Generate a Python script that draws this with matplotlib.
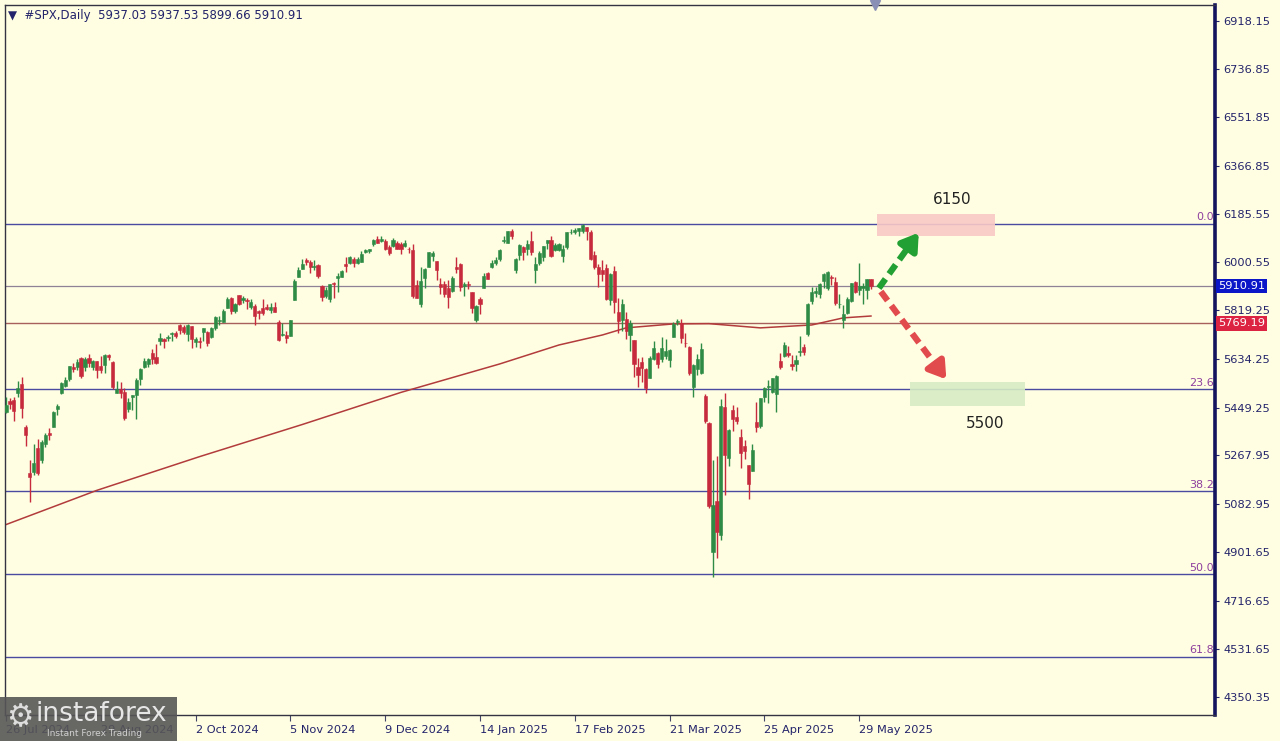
import numpy as np
import matplotlib
matplotlib.use("Agg")
import matplotlib.pyplot as plt
from matplotlib.patches import Rectangle
import matplotlib.transforms as mtransforms

# --- daily OHLC, one row of 10 bars per line (26 Jul 2024 .. 3 Jun 2025) ---
opens = [
    5434, 5476, 5478, 5505, 5537, 5376, 5200, 5206, 5294, 5252,
    5312, 5351, 5376, 5443, 5503, 5531, 5557, 5603, 5603, 5637,
    5603, 5639, 5603, 5625, 5608, 5612, 5648, 5624, 5506, 5520,
    5507, 5443, 5490, 5496, 5557, 5603, 5614, 5655, 5641, 5703,
    5709, 5712, 5728, 5733, 5762, 5756, 5727, 5758, 5698, 5701,
    5737, 5738, 5719, 5751, 5778, 5775, 5829, 5866, 5816, 5876,
    5859, 5858, 5833, 5835, 5817, 5826, 5833, 5818, 5833, 5776,
    5724, 5725, 5722, 5856, 5947, 5976, 6009, 6003, 5985, 5990,
    5912, 5874, 5860, 5924, 5942, 5947, 5993, 6000, 6015, 6000,
    6004, 6040, 6042, 6069, 6090, 6082, 6083, 6058, 6061, 6074,
    6069, 6063, 6053, 6048, 5913, 5842, 5941, 5985, 6025, 6006,
    5920, 5920, 5903, 5892, 5983, 5993, 5910, 5918, 5890, 5783,
    5860, 5905, 5962, 5982, 5997, 6015, 6082, 6076, 6121, 5970,
    6027, 6058, 6050, 6082, 5970, 5998, 6021, 6073, 6084, 6049,
    6049, 6026, 6060, 6115, 6115, 6121, 6118, 6134, 6115, 6027,
    5982, 5971, 5981, 5857, 5969, 5812, 5781, 5786, 5726, 5705,
    5603, 5624, 5594, 5563, 5635, 5655, 5633, 5646, 5630, 5718,
    5775, 5772, 5696, 5679, 5527, 5597, 5580, 5492, 5390, 4900,
    5093, 4966, 5450, 5256, 5441, 5412, 5336, 5305, 5232, 5207,
    5395, 5381, 5490, 5529, 5509, 5500, 5625, 5646, 5655, 5615,
    5614, 5662, 5679, 5730, 5854, 5886, 5879, 5929, 5902, 5944,
    5928, 5842, 5782, 5810, 5855, 5925, 5895, 5903, 5897, 5937.03,
]
highs = [
    5488, 5487, 5489, 5551, 5566, 5383, 5250, 5312, 5330, 5328,
    5351, 5372, 5436, 5463, 5546, 5564, 5608, 5620, 5633, 5643,
    5642, 5652, 5631, 5628, 5647, 5651, 5654, 5625, 5552, 5546,
    5523, 5484, 5497, 5560, 5600, 5636, 5637, 5671, 5690, 5734,
    5715, 5725, 5735, 5741, 5767, 5764, 5765, 5758, 5719, 5718,
    5753, 5739, 5757, 5797, 5796, 5822, 5871, 5870, 5846, 5878,
    5872, 5867, 5863, 5842, 5818, 5862, 5843, 5847, 5851, 5781,
    5772, 5741, 5783, 5936, 5983, 6013, 6018, 6009, 6009, 5993,
    5916, 5908, 5920, 5927, 5962, 5973, 6020, 6025, 6021, 6020,
    6044, 6053, 6050, 6089, 6100, 6099, 6089, 6066, 6092, 6080,
    6078, 6085, 6058, 6071, 5935, 5982, 5978, 6041, 6043, 6007,
    5941, 5929, 5935, 5949, 6022, 6000, 5928, 5930, 5890, 5837,
    5871, 5961, 5964, 6008, 6020, 6051, 6100, 6119, 6128, 6018,
    6070, 6063, 6087, 6121, 6023, 6042, 6062, 6085, 6101, 6074,
    6076, 6065, 6116, 6128, 6130, 6130, 6147, 6134, 6125, 6044,
    5993, 6009, 5994, 5959, 5987, 5866, 5861, 5812, 5783, 5706,
    5636, 5642, 5598, 5645, 5703, 5659, 5716, 5711, 5670, 5775,
    5787, 5784, 5733, 5685, 5615, 5651, 5696, 5500, 5395, 5250,
    5267, 5481, 5505, 5369, 5460, 5450, 5367, 5328, 5232, 5310,
    5469, 5484, 5528, 5553, 5563, 5572, 5658, 5700, 5684, 5649,
    5650, 5720, 5691, 5845, 5907, 5907, 5924, 5959, 5969, 5954,
    5946, 5879, 5839, 5870, 5922, 5930, 5999, 5922, 5938, 5937.53,
]
lows = [
    5430, 5444, 5398, 5488, 5410, 5302, 5090, 5194, 5192, 5238,
    5300, 5325, 5376, 5420, 5501, 5528, 5550, 5585, 5591, 5560,
    5590, 5603, 5593, 5561, 5580, 5581, 5630, 5520, 5504, 5486,
    5403, 5434, 5442, 5406, 5535, 5601, 5604, 5615, 5615, 5686,
    5675, 5704, 5701, 5712, 5728, 5727, 5703, 5675, 5680, 5677,
    5703, 5684, 5712, 5745, 5762, 5775, 5829, 5805, 5808, 5840,
    5846, 5824, 5822, 5762, 5784, 5800, 5818, 5807, 5812, 5704,
    5723, 5696, 5722, 5856, 5947, 5976, 5991, 5962, 5972, 5942,
    5853, 5866, 5850, 5866, 5888, 5945, 5963, 5993, 5984, 5995,
    6004, 6036, 6035, 6062, 6074, 6079, 6048, 6027, 6060, 6051,
    6034, 6059, 6035, 5867, 5866, 5832, 5903, 5983, 6006, 5932,
    5879, 5869, 5829, 5888, 5961, 5891, 5874, 5900, 5809, 5774,
    5805, 5905, 5936, 5980, 5990, 6007, 6076, 6075, 6089, 5962,
    6009, 6008, 6028, 6030, 5924, 5990, 6007, 6053, 6020, 6044,
    6043, 6003, 6052, 6107, 6110, 6100, 6111, 6084, 6009, 5977,
    5909, 5931, 5858, 5837, 5810, 5732, 5742, 5711, 5666, 5565,
    5529, 5547, 5505, 5563, 5631, 5599, 5621, 5632, 5603, 5718,
    5764, 5695, 5681, 5572, 5489, 5574, 5577, 5390, 5069, 4805,
    4880, 4948, 5116, 5227, 5359, 5386, 5220, 5255, 5101, 5207,
    5356, 5371, 5470, 5468, 5505, 5434, 5597, 5640, 5640, 5593,
    5588, 5646, 5649, 5720, 5844, 5868, 5867, 5902, 5896, 5913,
    5839, 5826, 5750, 5805, 5850, 5886, 5875, 5844, 5861, 5899.66,
]
closes = [
    5459, 5464, 5436, 5522, 5447, 5347, 5185, 5240, 5200, 5319,
    5344, 5344, 5434, 5455, 5543, 5554, 5608, 5597, 5621, 5571,
    5635, 5617, 5626, 5592, 5592, 5648, 5640, 5529, 5520, 5503,
    5408, 5471, 5496, 5554, 5596, 5626, 5633, 5635, 5618, 5714,
    5703, 5719, 5733, 5722, 5745, 5738, 5762, 5709, 5710, 5700,
    5751, 5696, 5751, 5792, 5780, 5815, 5860, 5815, 5842, 5841,
    5865, 5854, 5851, 5797, 5810, 5808, 5824, 5833, 5814, 5705,
    5729, 5713, 5783, 5929, 5973, 5996, 6001, 5984, 5985, 5949,
    5871, 5894, 5917, 5917, 5949, 5969, 5987, 6022, 5999, 6012,
    6032, 6047, 6050, 6086, 6075, 6090, 6053, 6035, 6084, 6051,
    6051, 6074, 6051, 5872, 5867, 5931, 5974, 6040, 6038, 5971,
    5907, 5882, 5869, 5942, 5975, 5909, 5918, 5915, 5827, 5836,
    5843, 5950, 5937, 5997, 6010, 6049, 6086, 6119, 6101, 6012,
    6068, 6039, 6071, 6041, 5995, 6038, 6061, 6084, 6026, 6066,
    6069, 6052, 6115, 6115, 6122, 6130, 6144, 6118, 6013, 5983,
    5955, 5956, 5862, 5955, 5850, 5778, 5843, 5739, 5770, 5615,
    5572, 5599, 5522, 5639, 5675, 5615, 5675, 5663, 5668, 5768,
    5777, 5712, 5693, 5581, 5612, 5633, 5671, 5397, 5074, 5080,
    4975, 5457, 5268, 5363, 5406, 5397, 5276, 5283, 5158, 5288,
    5376, 5485, 5525, 5529, 5561, 5569, 5604, 5687, 5650, 5607,
    5631, 5664, 5660, 5844, 5887, 5893, 5917, 5958, 5964, 5940,
    5845, 5842, 5803, 5860, 5922, 5889, 5912, 5912, 5936, 5910.91,
]

# 200-day moving average (bar index -> value)
ma_bar = [0, 23, 49, 75, 100, 125, 140, 151, 157, 169, 178, 191, 204, 212, 219]
ma_val = [5005, 5135, 5263, 5385, 5507, 5615, 5687, 5725, 5752, 5767,
          5768, 5752, 5763, 5790, 5797]

# date labels every 24 bars
date_labels = ["26 Jul 2024", "29 Aug 2024", "2 Oct 2024", "5 Nov 2024",
               "9 Dec 2024", "14 Jan 2025", "17 Feb 2025", "21 Mar 2025",
               "25 Apr 2025", "29 May 2025"]

price_ticks = [6918.15, 6736.85, 6551.85, 6366.85, 6185.55, 6000.55, 5819.25,
               5634.25, 5449.25, 5267.95, 5082.95, 4901.65, 4716.65, 4531.65,
               4350.35]

fib_high, fib_low = 6147, 3487
fib_levels = [0.0, 23.6, 38.2, 50.0, 61.8]
last_price = 5910.91
ma_price = 5769.19
target_up, target_down = 6150, 5500

BG = "#fffee2"
NAVY = "#23236b"
GREEN = "#2e8b45"
RED = "#c62a3c"

fig = plt.figure(figsize=(12.8, 7.41), dpi=100, facecolor=BG)
ax = fig.add_axes([5 / 1280, 26 / 741, 1210 / 1280, 710 / 741], facecolor=BG)

n = len(closes)
x = np.arange(n)
o = np.array(opens, float)
h = np.array(highs, float)
l = np.array(lows, float)
c = np.array(closes, float)
up = c >= o
cols = np.where(up, GREEN, RED)

# wicks + bodies
ax.vlines(x, l, h, colors=cols, lw=1.0, zorder=3)
body_lo = np.minimum(o, c)
body_h = np.maximum(np.abs(c - o), 2.0)
ax.bar(x, body_h, bottom=body_lo, width=0.8, color=cols, edgecolor=cols,
       lw=0.4, zorder=4)

# moving average
ax.plot(ma_bar, ma_val, color="#b23b3b", lw=1.1, zorder=2)

# fibonacci lines
fib_col = "#4a4aa0"
blend = mtransforms.blended_transform_factory(ax.transAxes, ax.transData)
for lev in fib_levels:
    p = fib_high - (fib_high - fib_low) * lev / 100
    ax.axhline(p, color=fib_col, lw=1.0, zorder=1)
    ax.text(0.999, p + 6, f"{lev:.1f}", transform=blend,
            ha="right", va="bottom", color="#8e3f9e", fontsize=8)

ax.axhline(last_price, color="#8f8296", lw=0.9, zorder=1)
ax.axhline(ma_price, color="#a8605c", lw=1.0, zorder=1)

# target zones
ax.add_patch(Rectangle((220.5, 6100), 30, 83, facecolor="#f9c9c6", edgecolor="none",
                       alpha=0.9, zorder=2))
ax.add_patch(Rectangle((229, 5456), 29, 91, facecolor="#d6ecc4", edgecolor="none",
                       alpha=0.9, zorder=2))
ax.text(239.5, 6240, str(target_up), fontsize=11, color="#222222", ha="center", va="center")
ax.text(248, 5388, str(target_down), fontsize=11, color="#222222", ha="center", va="center")


def dashed_arrow(x0, y0, x1, y1, color):
    fx = x0 + (x1 - x0) * 0.8
    fy = y0 + (y1 - y0) * 0.8
    ax.plot([x0, fx], [y0, fy], color=color, lw=4.5, ls=(0, (1.8, 1.0)),
            solid_capstyle="butt", zorder=6)
    ax.annotate("", xy=(x1, y1), xytext=(fx, fy),
                arrowprops=dict(arrowstyle="-|>,head_width=0.45,head_length=0.7",
                                color=color, lw=4.5, mutation_scale=14),
                zorder=6)


dashed_arrow(221, 5903, 231.5, 6122, "#22a033")
dashed_arrow(221.5, 5890, 238.5, 5548, "#e24b4e")

# axes & ticks
ax.set_xlim(-0.25, 306.1)
ax.set_ylim(4282, 6978)
ax.yaxis.tick_right()
ax.set_yticks(price_ticks)
ax.set_yticklabels([f"{v:.2f}" for v in price_ticks])
ax.tick_params(axis="y", direction="out", length=3, width=0.8, colors=NAVY,
               labelsize=8.2, labelcolor=NAVY, pad=3)
ax.set_xticks(np.arange(0, n, 24))
ax.set_xticklabels(date_labels)
for t in ax.get_xticklabels():
    t.set_ha("left")
ax.tick_params(axis="x", direction="out", length=4, width=0.8, colors="#444466",
               labelsize=8.2, labelcolor=NAVY, pad=3)

for side in ["left", "top", "bottom"]:
    ax.spines[side].set_color("#333344")
    ax.spines[side].set_linewidth(1.0)
ax.spines["right"].set_color("#14145e")
ax.spines["right"].set_linewidth(2.6)

# price tags on the right axis
ax.text(1.0025, last_price, f"{last_price:.2f}", transform=blend, ha="left", va="center",
        fontsize=8.2, color="white", clip_on=False, zorder=10,
        bbox=dict(boxstyle="square,pad=0.2", fc="#0b16c8", ec="none"))
ax.text(1.0025, ma_price, f"{ma_price:.2f}", transform=blend, ha="left", va="center",
        fontsize=8.2, color="white", clip_on=False, zorder=10,
        bbox=dict(boxstyle="square,pad=0.2", fc="#dc2341", ec="none"))

# chart shift marker
ax.plot([220], [1.0], marker="v", markersize=7, color="#8a8fb5",
        transform=mtransforms.blended_transform_factory(ax.transData, ax.transAxes),
        clip_on=False, zorder=10)

# header
fig.text(8 / 1280, 1 - 15 / 741,
         "\u25BC  #SPX,Daily  5937.03 5937.53 5899.66 5910.91",
         fontsize=8.5, color=NAVY, va="center", ha="left")

# logo (sits over the first two date labels, as on the original)
fig.patches.append(Rectangle((0, 0), 177 / 1280, 44 / 741, transform=fig.transFigure,
                             facecolor="#565656", alpha=0.9, edgecolor="none", zorder=20))
fig.text(6 / 1280, 1 - 718 / 741, "\u2699", fontsize=22, color="#dddddd",
         va="center", ha="left", zorder=21)
fig.text(36 / 1280, 1 - 714 / 741, "instaforex", fontsize=19, color="#e6e6e6",
         va="center", ha="left", zorder=21)
fig.text(47 / 1280, 1 - 733 / 741, "Instant Forex Trading", fontsize=6.5,
         color="#d0d0d0", va="center", ha="left", zorder=21)

fig.savefig("out.png", dpi=100, facecolor=BG)
